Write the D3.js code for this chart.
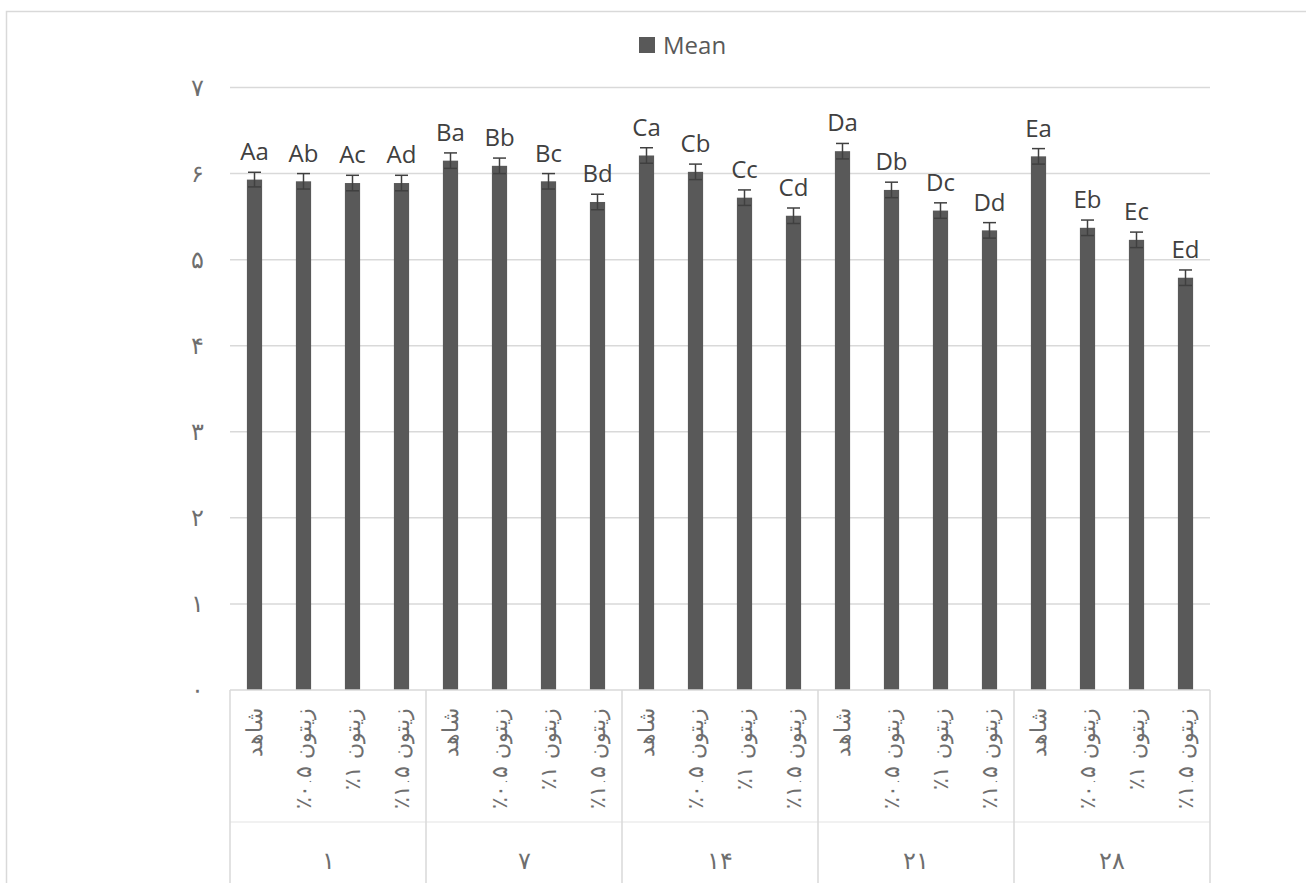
<!DOCTYPE html>
<html>
<head>
<meta charset="utf-8">
<script src="https://cdn.jsdelivr.net/npm/d3@7"></script>
<style>
  body { margin: 0; background: #fff; }
  text { font-family: "Open Sans", "DejaVu Sans", sans-serif; }
  .fa { font-family: "DejaVu Sans", sans-serif; font-weight: 200; }
</style>
</head>
<body>
<div id="chart"></div>
<script>
// Storage days (outer axis level) and treatments (inner level)
const days = ["۱", "۷", "۱۴", "۲۱", "۲۸"];
const treatments = ["شاهد", "٪۰.۵ زیتون", "٪۱ زیتون", "٪۱.۵ زیتون"];

// Mean values, one per bar, in order day by day
const means = [5.93, 5.91, 5.89, 5.89,
               6.15, 6.09, 5.91, 5.67,
               6.21, 6.02, 5.72, 5.51,
               6.26, 5.81, 5.57, 5.34,
               6.20, 5.37, 5.23, 4.79];
const errors = [0.085, 0.09, 0.09, 0.09,
                0.09, 0.09, 0.09, 0.09,
                0.09, 0.09, 0.09, 0.09,
                0.09, 0.09, 0.09, 0.09,
                0.09, 0.09, 0.09, 0.09];
const letters = ["Aa", "Ab", "Ac", "Ad",
                 "Ba", "Bb", "Bc", "Bd",
                 "Ca", "Cb", "Cc", "Cd",
                 "Da", "Db", "Dc", "Dd",
                 "Ea", "Eb", "Ec", "Ed"];
const yTicks = [0, 1, 2, 3, 4, 5, 6, 7];
const yTickLabels = ["۰", "۱", "۲", "۳", "۴", "۵", "۶", "۷"];

const width = 1306, height = 883;
const plot = { left: 230, right: 1210, top: 87.5, bottom: 690 };

const data = means.map((m, i) => ({
    id: i,
    day: days[Math.floor(i / treatments.length)],
    treatment: treatments[i % treatments.length],
    mean: m,
    err: errors[i],
    label: letters[i]
}));

const svg = d3.select("#chart")
    .append("svg")
    .attr("width", width)
    .attr("height", height);

// Chart area border (runs off the right and bottom edge)
svg.append("rect")
    .attr("x", 6.5).attr("y", 11.5)
    .attr("width", 1320).attr("height", 900)
    .attr("fill", "none")
    .attr("stroke", "#d9d9d9")
    .attr("stroke-width", 1.5);

// Scales
const x = d3.scaleBand()
    .domain(data.map(d => d.id))
    .range([plot.left, plot.right])
    .paddingInner(0.69)
    .paddingOuter(0.345);

const xGroup = d3.scaleBand()
    .domain(days)
    .range([plot.left, plot.right]);

const y = d3.scaleLinear()
    .domain([0, 7])
    .range([plot.bottom, plot.top]);

// Gridlines
svg.append("g")
    .selectAll("line")
    .data(yTicks.slice(1))
    .enter()
    .append("line")
    .attr("x1", plot.left).attr("x2", plot.right)
    .attr("y1", d => y(d)).attr("y2", d => y(d))
    .attr("stroke", "#d9d9d9")
    .attr("stroke-width", 1.5);

// Y tick labels (Persian digits)
svg.append("g")
    .selectAll("text")
    .data(yTicks)
    .enter()
    .append("text")
    .attr("class", "fa")
    .attr("x", 197)
    .attr("y", d => y(d))
    .attr("dy", "0.35em")
    .attr("text-anchor", "middle")
    .attr("fill", "#6e6e6e")
    .style("font-size", "24px")
    .text((d, i) => yTickLabels[i]);

// Bars
svg.append("g")
    .selectAll("rect")
    .data(data)
    .enter()
    .append("rect")
    .attr("x", d => x(d.id))
    .attr("y", d => y(d.mean))
    .attr("width", x.bandwidth())
    .attr("height", d => y(0) - y(d.mean))
    .attr("fill", "#595959");

// Error bars
const eb = svg.append("g")
    .attr("stroke", "#404040")
    .attr("stroke-width", 1.5);
data.forEach(d => {
    const cx = x(d.id) + x.bandwidth() / 2;
    eb.append("line")
        .attr("x1", cx).attr("x2", cx)
        .attr("y1", y(d.mean + d.err)).attr("y2", y(d.mean - d.err));
    [d.mean + d.err, d.mean - d.err].forEach(v => {
        eb.append("line")
            .attr("x1", cx - 6.5).attr("x2", cx + 6.5)
            .attr("y1", y(v)).attr("y2", y(v));
    });
});

// Letter labels above bars
svg.append("g")
    .selectAll("text")
    .data(data)
    .enter()
    .append("text")
    .attr("x", d => x(d.id) + x.bandwidth() / 2)
    .attr("y", d => y(d.mean + d.err) - 12)
    .attr("text-anchor", "middle")
    .attr("fill", "#404040")
    .style("font-size", "24px")
    .text(d => d.label);

// X axis: baseline, group separators and the line between the two levels
const axis = svg.append("g")
    .attr("stroke", "#d9d9d9")
    .attr("stroke-width", 1.5);
axis.append("line")
    .attr("x1", plot.left).attr("x2", plot.right)
    .attr("y1", plot.bottom).attr("y2", plot.bottom);
axis.append("line")
    .attr("x1", plot.left).attr("x2", plot.right)
    .attr("y1", 822).attr("y2", 822)
    .attr("stroke", "#ececec");
axis.selectAll(".sep")
    .data(days.concat([null]))
    .enter()
    .append("line")
    .attr("class", "sep")
    .attr("x1", (d, i) => i < days.length ? xGroup(d) : plot.right)
    .attr("x2", (d, i) => i < days.length ? xGroup(d) : plot.right)
    .attr("y1", plot.bottom).attr("y2", height);

// Treatment labels, rotated
svg.append("g")
    .selectAll("text")
    .data(data)
    .enter()
    .append("text")
    .attr("class", "fa")
    .attr("transform", d => `translate(${x(d.id) + x.bandwidth() / 2},708) rotate(-90)`)
    .attr("dy", "0.35em")
    .attr("text-anchor", "end")
    .attr("fill", "#6e6e6e")
    .style("font-size", "22px")
    .text(d => d.treatment);

// Day labels
svg.append("g")
    .selectAll("text")
    .data(days)
    .enter()
    .append("text")
    .attr("class", "fa")
    .attr("x", d => xGroup(d) + xGroup.bandwidth() / 2)
    .attr("y", 861)
    .attr("dy", "0.35em")
    .attr("text-anchor", "middle")
    .attr("fill", "#6e6e6e")
    .style("font-size", "24px")
    .text(d => d);

// Legend
const legend = svg.append("g");
legend.append("rect")
    .attr("x", 639).attr("y", 37)
    .attr("width", 16).attr("height", 16)
    .attr("fill", "#595959");
legend.append("text")
    .attr("x", 663).attr("y", 54)
    .attr("fill", "#595959")
    .style("font-size", "24px")
    .text("Mean");
</script>
</body>
</html>
